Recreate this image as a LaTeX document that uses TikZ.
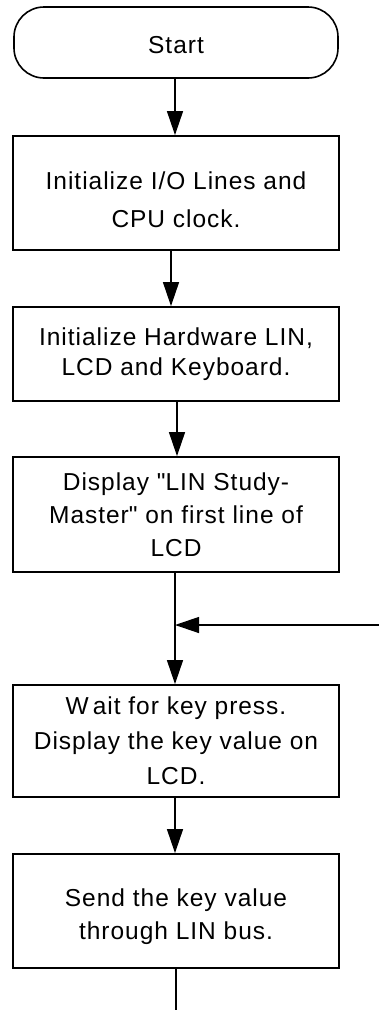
\documentclass[tikz,border=0pt]{standalone}
\usepackage{fontspec}
\setmainfont{Liberation Sans}[LetterSpace=4]
\usetikzlibrary{arrows.meta,calc}
% invisible strut that pushes a node's text block downwards
\newcommand{\dropby}[1]{\rule{0pt}{\dimexpr18pt+2\dimexpr#1\relax\relax}}
\begin{document}
\begin{tikzpicture}[x=1pt,y=-1pt,
  every node/.style={font=\fontsize{24.5}{33}\selectfont, align=center, inner sep=0pt},
  procbox/.style={draw, line width=1.8pt, minimum width=326pt},
  termbox/.style={draw, line width=1.6pt, rounded corners=30pt, minimum width=324pt, minimum height=71pt},
  flow/.style={line width=1.3pt, -{Triangle[length=24pt,width=16pt]}},
  plain/.style={line width=1.3pt}]
\useasboundingbox (0,0) rectangle (379,1010);

\node[termbox] (start) at (176,42.5) {\dropby{2pt}Start};
\node[procbox, minimum height=114pt] (b1) at (176,193) {\dropby{7pt}Initialize I/O Lines and\\[5pt] CPU clock.};
\node[procbox, minimum height=94pt] (b2) at (176,354) {Initialize Hardware LIN,\\[-3pt] LCD and Keyboard.};
\node[procbox, minimum height=115pt] (b3) at (176,514.5) {Display \textquotedbl LIN Study-\\ Master\textquotedbl{} on first line of\\ LCD};
\node[procbox, minimum height=112pt] (b4) at (176,741) {W\kern4pt ait for key press.\\[2pt] Display the key value on\\[2pt] LCD.};
\node[procbox, minimum height=114pt] (b5) at (176,911) {\dropby{6pt}Send the key value\\ through LIN bus.};

\coordinate (loopin) at (379,625);
\coordinate (exit) at (176,1010);

\draw[flow] ([xshift=-1pt]start.south) -- ([xshift=-1pt]b1.north);
\draw[flow] ([xshift=-5pt]b1.south) -- ([xshift=-5pt]b2.north);
\draw[flow] ([xshift=1pt]b2.south) -- ([xshift=1pt]b3.north);
\draw[flow] ([xshift=-1pt]b3.south) -- ([xshift=-1pt]b4.north);
\draw[flow] (loopin) -- ($(loopin -| b4.north)+(-1pt,0)$);
\draw[flow] ([xshift=-1pt]b4.south) -- ([xshift=-1pt]b5.north);
\draw[plain] (b5.south) -- (exit);
\end{tikzpicture}
\end{document}
